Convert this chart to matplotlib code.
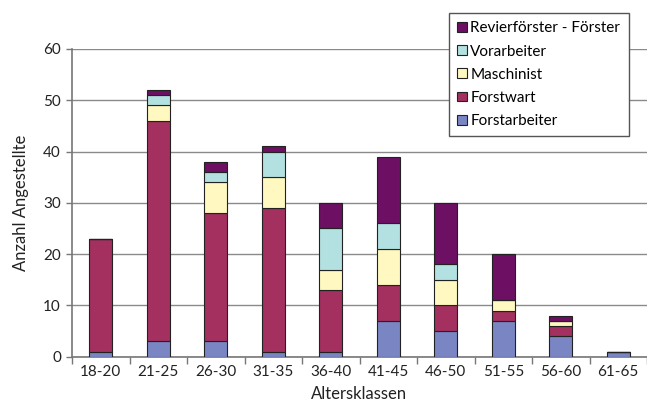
import matplotlib.pyplot as plt
import numpy as np

# data
klassen = ['18-20', '21-25', '26-30', '31-35', '36-40', '41-45', '46-50', '51-55', '56-60', '61-65']
forstarbeiter = [1, 3, 3, 1, 1, 7, 5, 7, 4, 1]
forstwart = [22, 43, 25, 28, 12, 7, 5, 2, 2, 0]
maschinist = [0, 3, 6, 6, 4, 7, 5, 2, 1, 0]
vorarbeiter = [0, 2, 2, 5, 8, 5, 3, 0, 0, 0]
revierfoerster = [0, 1, 2, 1, 5, 13, 12, 9, 1, 0]

series = [
    ('Forstarbeiter', forstarbeiter, '#7a86c4'),
    ('Forstwart', forstwart, '#a3305f'),
    ('Maschinist', maschinist, '#fff8c0'),
    ('Vorarbeiter', vorarbeiter, '#b3e0e0'),
    ('Revierförster - Förster', revierfoerster, '#6d1064'),
]

plt.rcParams['font.family'] = ['Lato', 'DejaVu Sans']

fig = plt.figure(figsize=(6.47, 4.08), dpi=100)
ax = fig.add_axes([72 / 647, 1 - 356.7 / 408, 1 - 72 / 647, (356.7 - 49) / 408])

x = np.arange(len(klassen))
bottom = np.zeros(len(klassen))
handles = []
for name, vals, col in series:
    vals = np.array(vals, dtype=float)
    b = ax.bar(x, vals, 0.4, bottom=bottom, color=col, edgecolor='#222222',
               linewidth=0.8, label=name, zorder=3)
    handles.append(b)
    bottom += vals

ax.set_xlim(-0.5, len(klassen) - 0.5)
ax.set_ylim(0, 60)
ax.set_yticks(range(0, 61, 10))
ax.yaxis.grid(True, color='#8a8a8a', linewidth=1.0, zorder=0)
ax.set_axisbelow(True)

# x ticks: labels at centers, tick marks at category boundaries
ax.set_xticks(x)
ax.set_xticklabels(klassen, fontsize=11, color='#222222')
ax.tick_params(axis='x', length=0, pad=6)
ax.set_xticks(np.arange(-0.5, len(klassen), 1), minor=True)
ax.tick_params(axis='x', which='minor', length=5, color='#777777', width=1)
ax.tick_params(axis='y', length=4, color='#777777', width=1, labelsize=11, labelcolor='#222222', pad=4)

for s in ['top', 'right']:
    ax.spines[s].set_visible(False)
for s in ['left', 'bottom']:
    ax.spines[s].set_color('#777777')
    ax.spines[s].set_linewidth(1.2)

ax.set_ylabel('Anzahl Angestellte', fontsize=12, color='#222222', labelpad=10)
ax.set_xlabel('Altersklassen', fontsize=12, color='#222222', labelpad=5)

leg = fig.legend(handles[::-1], [s[0] for s in series][::-1],
                 loc='upper left', bbox_to_anchor=(449 / 647, 1 - 13 / 408),
                 fontsize=11, frameon=True, fancybox=False, framealpha=1,
                 edgecolor='#555555', handlelength=0.6, handleheight=0.6,
                 handletextpad=0.25, labelspacing=0.6, borderpad=0.55,
                 borderaxespad=0)
leg.get_frame().set_linewidth(1.0)
leg.set_zorder(10)

fig.savefig('out.png', dpi=100)
